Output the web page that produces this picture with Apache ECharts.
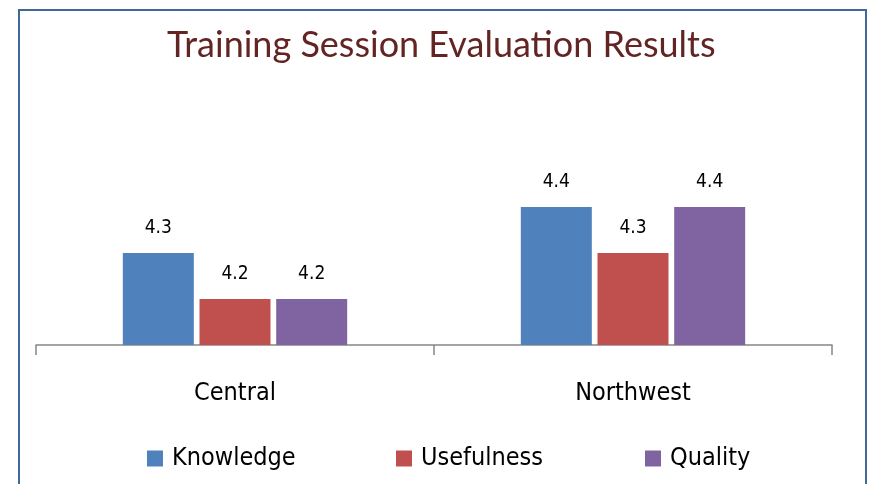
<!DOCTYPE html>
<html>
<head>
<meta charset="utf-8">
<script src="https://cdn.jsdelivr.net/npm/echarts@6/dist/echarts.min.js"></script>
<style>
  html, body { margin: 0; padding: 0; background: #fff; }
  #chart { width: 869px; height: 484px; }
</style>
</head>
<body>
<div id="chart"></div>
<script>
var regions = ['Central', 'Northwest'];
var knowledge = [4.3, 4.4];
var usefulness = [4.2, 4.3];
var quality = [4.2, 4.4];
var colors = ['#4f81bd', '#c0504d', '#8064a2'];
var narrow = '"Liberation Sans Narrow", "Arial Narrow", "DejaVu Sans Condensed", sans-serif';

var chart = echarts.init(document.getElementById('chart'));

function bar(name, data, color) {
  return {
    name: name,
    type: 'bar',
    data: data,
    barWidth: 71,
    barGap: '8%',
    itemStyle: { color: color },
    label: {
      show: true,
      position: 'top',
      distance: 15,
      color: '#000',
      fontSize: 19,
      fontFamily: narrow,
      formatter: function (p) { return p.value.toFixed(1); }
    }
  };
}

function legendAt(x, name) {
  return {
    data: [name],
    left: x,
    top: 441,
    itemWidth: 16,
    itemHeight: 16,
    itemGap: 0,
    icon: 'rect',
    textStyle: { fontSize: 25, fontFamily: narrow, color: '#000', padding: [0, 0, 0, 4] }
  };
}

chart.setOption({
  animation: false,
  title: {
    text: 'Training Session Evaluation Results',
    left: 162,
    top: 22,
    textStyle: { color: '#632523', fontSize: 36, fontWeight: 'normal', fontFamily: 'Lato, "Open Sans", sans-serif' }
  },
  graphic: [{
    type: 'rect',
    shape: { x: 19, y: 10, width: 847, height: 500 },
    style: { fill: 'none', stroke: '#41689a', lineWidth: 2 },
    silent: true
  }],
  legend: [
    legendAt(142, 'Knowledge'),
    legendAt(391, 'Usefulness'),
    legendAt(640, 'Quality')
  ],
  grid: { left: 36, right: 37, top: 161, bottom: 139 },
  xAxis: {
    type: 'category',
    data: regions,
    axisLine: { lineStyle: { color: '#868686', width: 1.5 } },
    axisTick: { show: true, length: 10, lineStyle: { color: '#868686', width: 1.5 } },
    axisLabel: { margin: 36, fontSize: 25, color: '#000', fontFamily: narrow }
  },
  yAxis: {
    type: 'value',
    min: 4.1,
    max: 4.5,
    show: false,
    splitLine: { show: false }
  },
  series: [
    bar('Knowledge', knowledge, colors[0]),
    bar('Usefulness', usefulness, colors[1]),
    bar('Quality', quality, colors[2])
  ]
});
</script>
</body>
</html>
